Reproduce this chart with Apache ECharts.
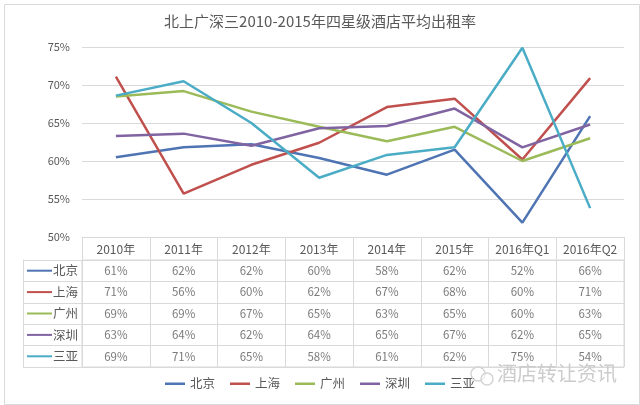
<!DOCTYPE html>
<html><head><meta charset="utf-8">
<script src="https://cdn.jsdelivr.net/npm/echarts@6/dist/echarts.min.js"></script>
<style>html,body{margin:0;padding:0;background:#fff}#c{width:640px;height:405px}</style>
</head><body><div id="c"></div>
<script>
const titleText = '北上广深三2010-2015年四星级酒店平均出租率';
const categories = ['2010年','2011年','2012年','2013年','2014年','2015年','2016年Q1','2016年Q2'];
const cities = ['北京','上海','广州','深圳','三亚'];
const beijing  = [60.5, 61.8, 62.2, 60.4, 58.2, 61.5, 51.9, 65.9];
const shanghai = [71.1, 55.7, 59.5, 62.4, 67.1, 68.2, 60.2, 70.9];
const guangzhou= [68.5, 69.2, 66.5, 64.5, 62.6, 64.5, 60.0, 63.0];
const shenzhen = [63.3, 63.6, 62.0, 64.3, 64.6, 66.9, 61.8, 64.8];
const sanya    = [68.6, 70.5, 65.0, 57.8, 60.8, 61.8, 74.9, 53.8];
const yTicks = [50, 55, 60, 65, 70, 75];
const seriesValues = [beijing, shanghai, guangzhou, shenzhen, sanya];
const colors = ['#4f74b3','#c0504d','#9bbb59','#8064a2','#4bacc6'];
const txt = '#595959', lineC = '#d9d9d9';
const font = '"Noto Sans CJK SC", "Noto Sans", sans-serif';

const rich = { n: { color: txt, fontSize: 12.5, fontFamily: font, padding: [0,0,0,1] } };
colors.forEach((c, i) => { rich['l' + i] = { backgroundColor: c, width: 25, height: 2 }; });

const series = [];
seriesValues.forEach((vals, c) => {
  series.push({
    name: cities[c], type: 'line', xAxisIndex: 0, yAxisIndex: 0,
    data: vals, symbol: 'none', smooth: false,
    lineStyle: { width: 2.5, color: colors[c] }, itemStyle: { color: colors[c] }
  });
});
seriesValues.forEach((vals, c) => {
  series.push({
    name: cities[c] + '表', type: 'scatter', xAxisIndex: 1, yAxisIndex: 1,
    data: vals.map((v, i) => [categories[i], cities[c], v]),
    symbolSize: 1, itemStyle: { color: 'transparent' }, silent: true,
    label: { show: true, position: 'inside', color: txt, fontSize: 11.5, fontFamily: font,
      formatter: p => Math.round(p.value[2]) + '%' }
  });
});

const chart = echarts.init(document.getElementById('c'));
chart.setOption({
  animation: false,
  backgroundColor: '#fff',
  title: { text: titleText, left: 'center', top: 9,
    textStyle: { color: txt, fontSize: 15, fontWeight: 'normal', fontFamily: font } },
  legend: { data: cities, bottom: 10, left: 'center', icon: 'rect', itemWidth: 20, itemHeight: 2.5, itemGap: 15,
    textStyle: { color: txt, fontSize: 12.5, fontFamily: font } },
  grid: [
    { left: 82, right: 16, top: 47, height: 190 },
    { left: 82, right: 16, top: 260, height: 107, show: true, borderColor: lineC, borderWidth: 1 }
  ],
  xAxis: [
    { type: 'category', gridIndex: 0, data: categories, boundaryGap: true,
      axisLine: { show: true, lineStyle: { color: lineC } },
      axisTick: { show: true, length: 130, alignWithLabel: false, lineStyle: { color: lineC } },
      axisLabel: { color: txt, fontSize: 12, fontFamily: font, margin: 6, interval: 0 },
      splitLine: { show: false } },
    { type: 'category', gridIndex: 1, data: categories, boundaryGap: true,
      axisLine: { show: false }, axisTick: { show: false }, axisLabel: { show: false }, splitLine: { show: false } }
  ],
  yAxis: [
    { type: 'value', gridIndex: 0, min: yTicks[0], max: yTicks[yTicks.length - 1], interval: 5,
      axisLine: { show: false }, axisTick: { show: false },
      axisLabel: { color: txt, fontSize: 11, fontFamily: font, margin: 12, formatter: '{value}%' },
      splitLine: { show: true, lineStyle: { color: lineC } } },
    { type: 'category', gridIndex: 1, data: cities, inverse: true, boundaryGap: true,
      axisLine: { show: true, lineStyle: { color: lineC } },
      axisTick: { show: true, length: 59, alignWithLabel: false, lineStyle: { color: lineC } },
      axisLabel: { margin: 4, interval: 0, rich: rich,
        formatter: (v, i) => '{l' + i + '|}{n|' + v + '}' },
      splitLine: { show: true, lineStyle: { color: lineC } } },
    { type: 'category', gridIndex: 1, data: cities, inverse: true, position: 'left', offset: 59,
      axisLine: { show: true, lineStyle: { color: lineC } },
      axisTick: { show: false }, axisLabel: { show: false }, splitLine: { show: false } }
  ],
  graphic: [
    { type: 'rect', left: 2, top: 2, shape: { width: 635, height: 400 }, silent: true,
      style: { fill: 'none', stroke: '#d9d9d9', lineWidth: 1 }, z: -1 },
    { type: 'circle', shape: { cx: 478, cy: 374, r: 7 }, silent: true,
      style: { fill: 'none', stroke: '#d4d4d4', lineWidth: 1.5 }, z: 10 },
    { type: 'circle', shape: { cx: 487, cy: 379, r: 6 }, silent: true,
      style: { fill: 'rgba(255,255,255,0.6)', stroke: '#d4d4d4', lineWidth: 1.5 }, z: 10 },
    { type: 'text', left: 497, top: 363, silent: true, z: 10,
      style: { text: '酒店转让资讯', fill: '#cccccc', fontSize: 20, fontFamily: font } }
  ],
  series: series
});
</script></body></html>
